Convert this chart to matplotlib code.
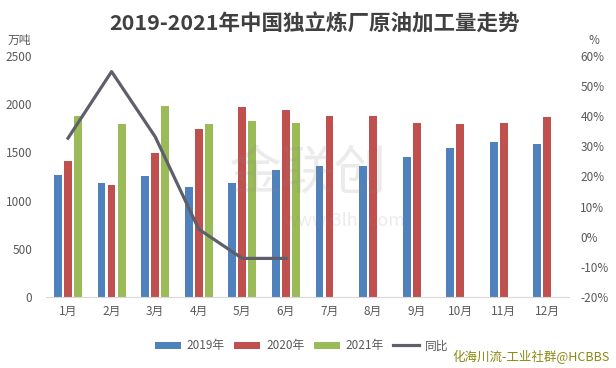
import matplotlib
matplotlib.use("Agg")
import matplotlib.pyplot as plt
import numpy as np

plt.rcParams['font.family'] = ['Noto Sans CJK SC', 'DejaVu Sans']

# data (万吨 / %)
months = ['1月', '2月', '3月', '4月', '5月', '6月',
          '7月', '8月', '9月', '10月', '11月', '12月']
y2019 = [1265, 1183, 1255, 1144, 1183, 1317, 1359, 1359, 1455, 1546, 1608, 1587]
y2020 = [1411, 1165, 1494, 1743, 1971, 1940, 1878, 1878, 1805, 1795, 1805, 1867]
y2021 = [1878, 1795, 1985, 1795, 1829, 1808]
yoy = [32.7, 54.8, 33.2, 2.5, -7.2, -7.2]

c19, c20, c21, cline = '#4F81BD', '#C0504D', '#9BBB59', '#5E5F6B'
tick_c = '#595959'

fig = plt.figure(figsize=(6.16, 3.68), dpi=100)
ax = fig.add_axes([0.075, 0.193, 0.849, 0.655])
ax2 = ax.twinx()

x = np.arange(len(months))
w, off = 0.18, 0.23
ax.bar(x - off, y2019, w, color=c19, label='2019年', zorder=2)
ax.bar(x, y2020, w, color=c20, label='2020年', zorder=2)
ax.bar(np.arange(len(y2021)) + off, y2021, w, color=c21, label='2021年', zorder=2)
ax2.plot(np.arange(len(yoy)), yoy, color=cline, lw=2.3, label='同比', zorder=3)

ax.set_xlim(-0.5, len(months) - 0.5)
ax.set_ylim(0, 2500)
ax.set_yticks(range(0, 2501, 500))
ax2.set_ylim(-20, 60)
ax2.set_yticks(range(-20, 61, 10))
ax2.set_yticklabels([f'{v}%' for v in range(-20, 61, 10)])
ax.set_xticks(x)
ax.set_xticklabels(months)

for a in (ax, ax2):
    for s in a.spines.values():
        s.set_visible(False)
    a.tick_params(length=0, colors=tick_c, labelsize=8.5)
ax.spines['bottom'].set_visible(True)
ax.spines['bottom'].set_color('#D9D9D9')
ax.tick_params(axis='y', pad=10)
ax2.tick_params(axis='y', pad=8)
ax.tick_params(axis='x', pad=6)

fig.text(0.51, 0.935, '2019-2021年中国独立炼厂原油加工量走势', ha='center', va='center',
         fontsize=15.5, fontweight='bold', color='#404040')
fig.text(0.012, 0.89, '万吨', fontsize=8.5, color=tick_c, va='center')
fig.text(0.955, 0.89, '%', fontsize=8.5, color=tick_c, va='center')

# watermarks
fig.text(0.50, 0.53, '金联创', fontsize=38, color='#888888', alpha=0.16,
         ha='center', va='center')
fig.text(0.56, 0.40, 'www.3lhl.com', fontsize=13, color='#888888', alpha=0.16,
         ha='center', va='center')

h1, l1 = ax.get_legend_handles_labels()
h2, l2 = ax2.get_legend_handles_labels()
fig.legend(h1 + h2, l1 + l2, loc='center', bbox_to_anchor=(0.49, 0.06), ncol=4,
           frameon=False, fontsize=8.5, handlelength=2.2, handleheight=0.6,
           columnspacing=0.8, handletextpad=0.5, labelcolor=tick_c)

fig.text(0.99, 0.03, '化海川流-工业社群@HCBBS', ha='right', va='center',
         fontsize=9, color='#8A8A10')

fig.savefig('out.png', dpi=100)
